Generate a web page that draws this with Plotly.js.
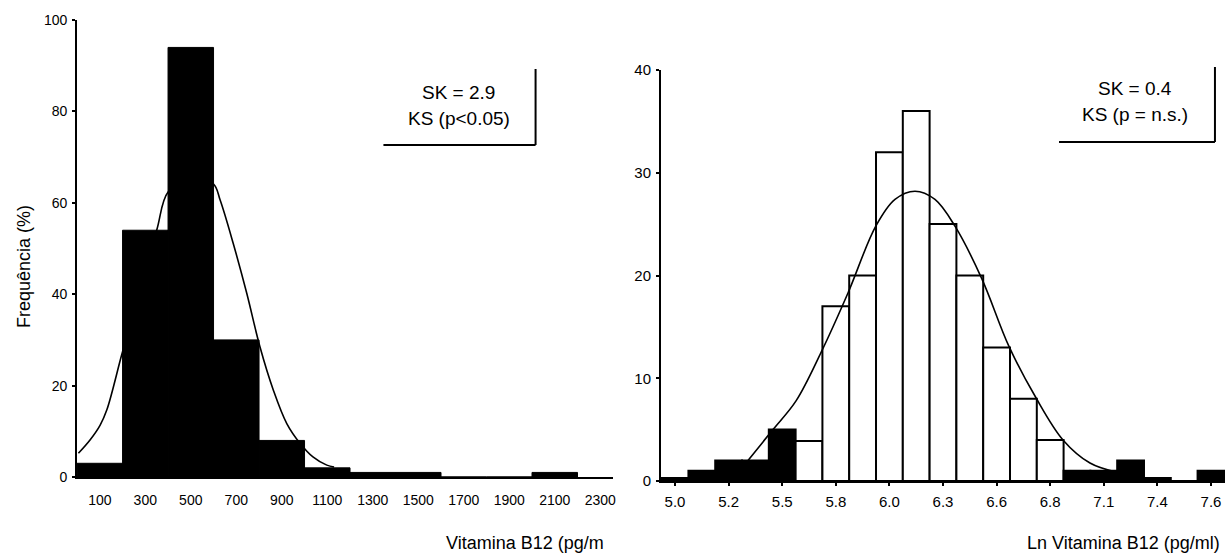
<!DOCTYPE html>
<html>
<head>
<meta charset="utf-8">
<script src="https://cdn.plot.ly/plotly-3.0.1.min.js"></script>
<style>html,body{margin:0;padding:0;background:#fff;}#chart{width:1225px;height:556px;}</style>
</head>
<body>
<div id="chart"></div>
<script>
// ---------- Left panel: Vitamina B12 (pg/ml) ----------
const leftBinCenters = [100, 300, 500, 700, 900, 1100, 1300, 1500, 1700, 1900, 2100];
const leftFreq       = [3, 54, 94, 30, 8, 2, 1, 1, 0, 0, 1];
const leftTickVals   = [100, 300, 500, 700, 900, 1100, 1300, 1500, 1700, 1900, 2100, 2300];
const leftTickText   = ["100","300","500","700","900","1100","1300","1500","1700","1900","2100","2300"];
const leftCurveX     = [6, 57, 101, 131, 196, 247, 291, 350, 401, 510, 600, 629, 686, 746, 804, 863, 922, 980, 1037, 1098, 1130];
const leftCurveY     = [5.2, 8.1, 11.3, 14.7, 26.7, 35.8, 44.9, 54, 62.4, 65.3, 64.1, 60.6, 51.2, 40.2, 28.5, 19, 11.7, 7.4, 4.4, 2.6, 2.2];

// ---------- Right panel: Ln Vitamina B12 (pg/ml) ----------
const rightBinCenters = [5.00,5.13,5.26,5.39,5.52,5.65,5.78,5.91,6.04,6.17,6.30,6.43,6.56,6.69,6.82,6.95,7.08,7.21,7.34,7.47,7.60];
const rightFreq       = [0.3, 1, 2, 2, 5, 3.9, 17, 20, 32, 36, 25, 20, 13, 8, 4, 1, 1, 2, 0.3, 0, 1];
const rightTickVals   = [5.00, 5.26, 5.52, 5.78, 6.04, 6.30, 6.56, 6.82, 7.08, 7.34, 7.60];
const rightTickText   = ["5.0","5.2","5.5","5.8","6.0","6.3","6.6","6.8","7.1","7.4","7.6"];
const rightCurveX     = [5.354, 5.475, 5.587, 5.708, 5.839, 5.974, 6.067, 6.164, 6.261, 6.358, 6.488, 6.620, 6.751, 6.882, 7.013, 7.134];
const rightCurveY     = [2.0, 5.0, 7.8, 12.5, 18.3, 24.8, 27.4, 28.2, 27.4, 24.8, 19.7, 13.1, 8.1, 4.0, 1.75, 0.9];

// bar fill style (scan shows the outer small bars printed solid black)
const rightFill = ["#000","#000","#000","#000","#000","#fff","#fff","#fff","#fff","#fff","#fff",
                   "#fff","#fff","#fff","#fff","#000","#000","#000","#000","#000","#000"];

const FONT = "Arial, 'Liberation Sans', sans-serif";

const traces = [
  {type:"bar", x:leftBinCenters, y:leftFreq, width:200, xaxis:"x", yaxis:"y",
   marker:{color:"#000", line:{color:"#000", width:1}}, hoverinfo:"x+y"},
  {type:"scatter", mode:"lines", x:leftCurveX, y:leftCurveY, xaxis:"x", yaxis:"y",
   line:{color:"#000", width:1.6, shape:"spline", smoothing:1}},
  {type:"bar", x:rightBinCenters, y:rightFreq, width:0.13, xaxis:"x2", yaxis:"y2",
   marker:{color:rightFill, line:{color:"#000", width:2}}, hoverinfo:"x+y"},
  {type:"scatter", mode:"lines", x:rightCurveX, y:rightCurveY, xaxis:"x2", yaxis:"y2",
   line:{color:"#000", width:1.6, shape:"spline", smoothing:1}}
];

const axisCommon = {showgrid:false, zeroline:false, showline:true, linecolor:"#000", linewidth:2,
  fixedrange:true};

const layout = {
  width:1225, height:556,
  margin:{l:0, r:0, t:0, b:0},
  paper_bgcolor:"#fff", plot_bgcolor:"rgba(0,0,0,0)",
  showlegend:false, bargap:0,
  font:{family:FONT, color:"#000"},
  xaxis: Object.assign({}, axisCommon, {
    domain:[0.0629, 0.5004], range:[0, 2356], anchor:"y",
    tickmode:"array", tickvals:leftTickVals, ticktext:leftTickText,
    ticks:"", ticklabelstandoff:9, tickfont:{size:14, family:FONT}
  }),
  yaxis: Object.assign({}, axisCommon, {
    domain:[0.1421, 0.964], range:[0, 100], anchor:"x",
    tickvals:[0,20,40,60,80,100], ticks:"outside", ticklen:3, tickwidth:2, tickcolor:"#000",
    tickfont:{size:14, family:FONT}, ticklabelstandoff:2
  }),
  xaxis2: Object.assign({}, axisCommon, {
    domain:[0.5396, 1], range:[4.932, 7.668], anchor:"y2",
    tickmode:"array", tickvals:rightTickVals, ticktext:rightTickText,
    ticks:"outside", ticklen:3, tickwidth:2, tickcolor:"#000",
    ticklabelstandoff:3, tickfont:{size:15, family:FONT}
  }),
  yaxis2: Object.assign({}, axisCommon, {
    domain:[0.1349, 0.8741], range:[0, 40], anchor:"x2",
    tickvals:[0,10,20,30,40], ticks:"outside", ticklen:3, tickwidth:2, tickcolor:"#000",
    tickfont:{size:15, family:FONT}, ticklabelstandoff:2
  }),
  shapes:[
    {type:"line", xref:"paper", yref:"paper", x0:0.4372, x1:0.4372, y0:0.8759, y1:0.7392, line:{color:"#000", width:2}},
    {type:"line", xref:"paper", yref:"paper", x0:0.3130, x1:0.4372, y0:0.7392, y1:0.7392, line:{color:"#000", width:2}},
    {type:"line", xref:"paper", yref:"paper", x0:0.9918, x1:0.9918, y0:0.8795, y1:0.7446, line:{color:"#000", width:2}},
    {type:"line", xref:"paper", yref:"paper", x0:0.8645, x1:0.9918, y0:0.7446, y1:0.7446, line:{color:"#000", width:2}}
  ],
  annotations:[
    {text:"SK = 2.9", xref:"paper", yref:"paper", x:0.3743, y:0.834, showarrow:false, xanchor:"center", yanchor:"middle", font:{size:19, family:FONT}},
    {text:"KS (p<0.05)", xref:"paper", yref:"paper", x:0.3743, y:0.7863, showarrow:false, xanchor:"center", yanchor:"middle", font:{size:19, family:FONT}},
    {text:"SK = 0.4", xref:"paper", yref:"paper", x:0.9265, y:0.8405, showarrow:false, xanchor:"center", yanchor:"middle", font:{size:19, family:FONT}},
    {text:"KS (p = n.s.)", xref:"paper", yref:"paper", x:0.9265, y:0.7932, showarrow:false, xanchor:"center", yanchor:"middle", font:{size:19, family:FONT}},
    {text:"Frequência (%)", xref:"paper", yref:"paper", x:24/1225, y:0.5198, textangle:-90, showarrow:false, xanchor:"center", yanchor:"middle", font:{size:18, family:FONT}},
    {text:"Vitamina B12 (pg/m", xref:"paper", yref:"paper", x:525/1225, y:1-543/556, showarrow:false, xanchor:"center", yanchor:"middle", font:{size:18, family:FONT}},
    {text:"Ln Vitamina B12 (pg/ml)", xref:"paper", yref:"paper", x:1123/1225, y:1-543/556, showarrow:false, xanchor:"center", yanchor:"middle", font:{size:18, family:FONT}}
  ]
};

Plotly.newPlot("chart", traces, layout, {displayModeBar:false, staticPlot:true});
</script>
</body>
</html>
